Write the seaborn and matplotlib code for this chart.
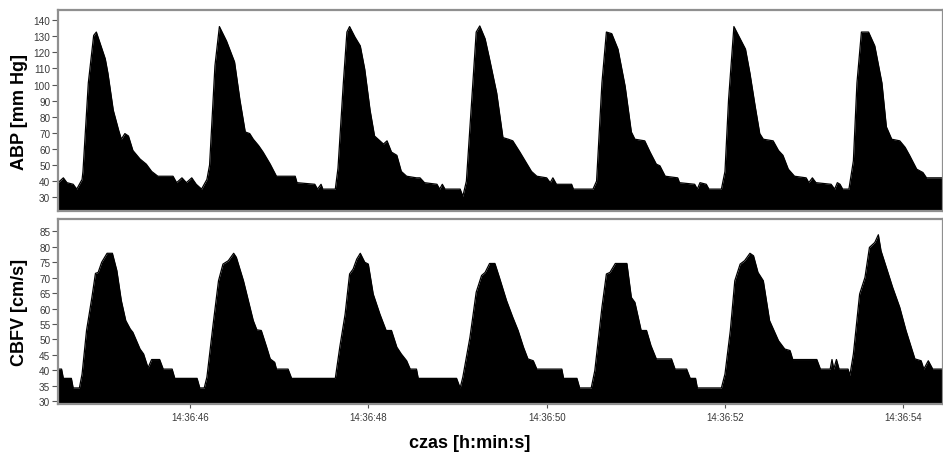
import matplotlib
matplotlib.use("Agg")
import matplotlib.pyplot as plt
from matplotlib.ticker import FuncFormatter, FixedLocator
import seaborn as sns
import pandas as pd

# ---- data (time in seconds after 14:36:00) ----
abp_time = [44.52, 44.58, 44.62, 44.69, 44.73, 44.79, 44.80, 44.86, 44.92, 44.95, 44.99, 45.05, 45.08,
            45.14, 45.20, 45.23, 45.27, 45.31, 45.36, 45.44, 45.51, 45.57, 45.64, 45.81, 45.85, 45.91,
            45.96, 46.02, 46.07, 46.13, 46.19, 46.22, 46.28, 46.33, 46.41, 46.50, 46.56, 46.62, 46.67,
            46.71, 46.77, 46.82, 46.90, 46.97, 47.18, 47.20, 47.40, 47.43, 47.47, 47.49, 47.63, 47.66,
            47.72, 47.76, 47.79, 47.85, 47.91, 47.96, 48.02, 48.07, 48.13, 48.17, 48.21, 48.26, 48.32,
            48.37, 48.43, 48.54, 48.58, 48.63, 48.77, 48.80, 48.83, 48.86, 49.03, 49.06, 49.10, 49.18,
            49.21, 49.25, 49.31, 49.36, 49.44, 49.51, 49.57, 49.62, 49.70, 49.77, 49.83, 49.89, 50.00,
            50.04, 50.07, 50.11, 50.28, 50.30, 50.52, 50.56, 50.62, 50.67, 50.73, 50.80, 50.88, 50.95,
            50.99, 51.10, 51.16, 51.23, 51.27, 51.33, 51.47, 51.49, 51.66, 51.69, 51.72, 51.79, 51.82,
            51.96, 52.00, 52.04, 52.10, 52.23, 52.28, 52.34, 52.39, 52.43, 52.54, 52.60, 52.65, 52.71,
            52.78, 52.91, 52.94, 52.98, 53.02, 53.19, 53.23, 53.26, 53.29, 53.32, 53.39, 53.44, 53.48,
            53.53, 53.61, 53.68, 53.76, 53.81, 53.87, 53.96, 54.02, 54.07, 54.15, 54.22, 54.26, 54.45]
abp_value = [39, 42, 39, 38, 35, 41, 46, 101, 130.5, 132.6, 126, 116, 107,
             84, 71.6, 66, 69.5, 68, 59, 53.7, 50.5, 46, 43, 43, 39, 42,
             39, 42, 38, 35, 41, 50, 111.6, 136, 127, 114, 90.5, 70.5, 69.5,
             66, 62, 58, 50.5, 43, 43, 39, 38, 35, 38, 35, 35, 48,
             101, 132.6, 136, 129.5, 124, 109.5, 84, 68, 65, 63, 65, 58, 56,
             46, 43, 42, 42, 39, 38, 35, 38, 35, 35, 30.5, 40, 107,
             132.6, 136.4, 128.4, 115.8, 94.7, 67, 66, 65, 58, 51.5, 46, 43, 42,
             39, 42, 38, 38, 35, 35, 40, 101, 132.6, 131.6, 122, 99, 70.5,
             66, 65, 58, 50.5, 49.5, 43, 42, 39, 38, 35, 39, 38, 35,
             35, 46, 90.5, 136, 122, 107, 86, 69.5, 66, 65, 59, 56, 47.4,
             43, 42, 39, 42, 39, 38, 35, 39, 38, 35, 35, 52.6, 101,
             132.6, 132.6, 124, 101, 73.7, 66, 65, 61, 56, 47.4, 45.3, 42, 42]

cbfv_time = [44.52, 44.56, 44.58, 44.67, 44.69, 44.76, 44.79, 44.84, 44.90, 44.94, 44.97, 45.01, 45.07,
             45.13, 45.18, 45.23, 45.28, 45.33, 45.36, 45.44, 45.48, 45.53, 45.57, 45.66, 45.70, 45.80,
             45.83, 46.08, 46.11, 46.16, 46.19, 46.26, 46.32, 46.37, 46.43, 46.49, 46.52, 46.60, 46.65,
             46.71, 46.75, 46.80, 46.86, 46.90, 46.95, 46.97, 47.10, 47.14, 47.63, 47.68, 47.74, 47.79,
             47.83, 47.87, 47.91, 47.96, 48.00, 48.055, 48.13, 48.20, 48.26, 48.32, 48.37, 48.43, 48.47,
             48.54, 48.56, 48.99, 49.03, 49.06, 49.14, 49.21, 49.27, 49.31, 49.36, 49.42, 49.47, 49.55,
             49.62, 49.68, 49.74, 49.79, 49.85, 49.89, 50.17, 50.19, 50.34, 50.37, 50.50, 50.54, 50.62,
             50.67, 50.71, 50.77, 50.90, 50.95, 50.99, 51.06, 51.12, 51.17, 51.23, 51.40, 51.44, 51.57,
             51.61, 51.67, 51.69, 51.96, 52.00, 52.06, 52.11, 52.17, 52.22, 52.28, 52.32, 52.37, 52.43,
             52.50, 52.60, 52.67, 52.73, 52.76, 53.03, 53.07, 53.18, 53.20, 53.22, 53.25, 53.28, 53.38,
             53.40, 53.44, 53.51, 53.57, 53.62, 53.68, 53.72, 53.75, 53.81, 53.88, 53.96, 54.03, 54.13,
             54.20, 54.23, 54.28, 54.33, 54.45]
cbfv_value = [40.4, 40.4, 37.4, 37.4, 34.3, 34.3, 38.8, 52.9, 63.6, 71.4, 71.7, 75, 77.9,
              77.9, 72.3, 62.6, 56.1, 53.4, 52.3, 46.9, 45.3, 40.8, 43.5, 43.5, 40.4, 40.4,
              37.4, 37.4, 34.3, 34.3, 37.8, 55, 69, 74.4, 75.5, 77.9, 76.6, 69, 63.1,
              56.1, 53.1, 52.9, 47.5, 43.7, 42.6, 40.4, 40.4, 37.4, 37.4, 47.5, 58.2, 71.2,
              72.8, 76, 77.9, 75, 74.4, 64.7, 58.2, 52.9, 52.9, 47.5, 45.3, 43.1, 40.4,
              40.4, 37.4, 37.4, 34.3, 37.8, 50.7, 65.3, 70.7, 71.7, 74.6, 74.6, 70.1, 62.6,
              57.2, 52.9, 47.5, 43.7, 43.1, 40.4, 40.4, 37.4, 37.4, 34.3, 34.3, 39.9, 60.4,
              71.2, 71.7, 74.6, 74.6, 63.6, 62, 52.9, 52.9, 48, 43.7, 43.7, 40.4, 40.4,
              37.4, 37.4, 34.3, 34.3, 38.8, 52.9, 69, 74.4, 75.5, 77.9, 77.1, 71.7, 69,
              56.1, 49.6, 46.9, 46.4, 43.5, 43.5, 40.4, 40.4, 43.5, 40.4, 43.5, 40.4, 40.4,
              38.3, 45.3, 64.7, 70.1, 79.8, 81.4, 83.9, 78.7, 73.3, 66.9, 60.4, 52.9, 43.7,
              43.1, 40.4, 43.1, 40.4, 40.4]

abp_ticks = [30, 40, 50, 60, 70, 80, 90, 100, 110, 120, 130, 140]
cbfv_ticks = [30, 35, 40, 45, 50, 55, 60, 65, 70, 75, 80, 85]
time_ticks = [46, 48, 50, 52, 54]
abp_label = "ABP [mm Hg]"
cbfv_label = "CBFV [cm/s]"
x_label = "czas [h:min:s]"

# ---- style ----
sns.set_theme(style="white")
plt.rcParams['font.family'] = ['Liberation Sans', 'DejaVu Sans']

W, H = 943, 456
fig = plt.figure(figsize=(W / 100, H / 100), dpi=100)

def fx(px):
    return px / W

def fy(py):
    return 1 - py / H

left, right = 58, 943
ax1 = fig.add_axes([fx(left), fy(212), fx(right - left), fy(11) - fy(212)])
ax2 = fig.add_axes([fx(left), fy(405), fx(right - left), fy(219.7) - fy(405)])

xlim = (44.52, 54.445)
panels = [
    (ax1, abp_time, abp_value, abp_ticks, (21.4, 146.3), abp_label),
    (ax2, cbfv_time, cbfv_value, cbfv_ticks, (29.1, 89.1), cbfv_label),
]

for ax, tt, vv, ticks, ylim, lab in panels:
    df = pd.DataFrame({"t": tt, "v": vv})
    ax.fill_between(df["t"], df["v"], ylim[0], color="black", linewidth=0)
    sns.lineplot(data=df, x="t", y="v", color="black", linewidth=0.9, ax=ax)
    ax.set_xlim(*xlim)
    ax.set_ylim(*ylim)
    ax.yaxis.set_major_locator(FixedLocator(ticks))
    ax.tick_params(axis="y", which="major", left=True, length=4.5, width=0.8,
                   color="#555555", labelsize=7.2, labelcolor="#3a3a3a", pad=1)
    for s in ax.spines.values():
        s.set_color("#8f8f8f")
        s.set_linewidth(1.6)
    ax.set_ylabel(lab, fontsize=13, fontweight="bold", color="black")
    ax.yaxis.set_label_coords((28 - left) / (right - left), 0.5)
    ax.set_xlabel("")

ax1.set_xticks(time_ticks)
ax1.tick_params(axis="x", bottom=False, labelbottom=False)

ax2.set_xticks(time_ticks)
ax2.xaxis.set_major_formatter(FuncFormatter(lambda s, p: "14:36:%02d" % int(round(s))))
ax2.tick_params(axis="x", bottom=True, length=3, width=0.8, color="#555555",
                labelsize=7, labelcolor="#3a3a3a", pad=3)

fig.text(fx(470) , fy(444), x_label, ha="center", va="center",
         fontsize=13, fontweight="bold", color="black")

fig.savefig("out.png", dpi=100)
